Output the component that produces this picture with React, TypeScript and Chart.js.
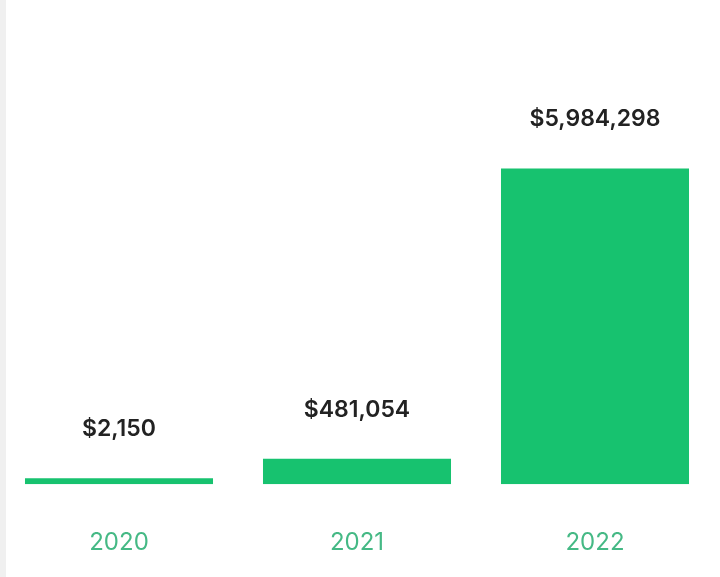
import React, { useEffect, useRef } from "react";
import { Chart, registerables } from "chart.js";

Chart.register(...registerables);

const years = ["2020", "2021", "2022"];
const revenue = [2150, 481054, 5984298];
const valueLabels = ["$2,150", "$481,054", "$5,984,298"];

const BAR_COLOR = "#17c26f";
const TICK_COLOR = "#45b985";
const LABEL_COLOR = "#222222";
const FONT = "Inter, 'Open Sans', sans-serif";

const valueLabelPlugin = {
  id: "valueLabels",
  afterDatasetsDraw(chart: any) {
    const ctx = chart.ctx;
    const meta = chart.getDatasetMeta(0);
    ctx.save();
    ctx.fillStyle = LABEL_COLOR;
    ctx.font = `600 23px ${FONT}`;
    ctx.textAlign = "center";
    ctx.textBaseline = "alphabetic";
    meta.data.forEach((bar: any, i: number) => {
      ctx.fillText(valueLabels[i], bar.x, bar.y - 42);
    });
    ctx.restore();
  },
};

export default function App() {
  const ref = useRef<HTMLCanvasElement | null>(null);

  useEffect(() => {
    if (!ref.current) return;
    const chart = new Chart(ref.current, {
      type: "bar",
      data: {
        labels: years,
        datasets: [
          {
            data: revenue,
            backgroundColor: BAR_COLOR,
            borderWidth: 0,
            barPercentage: 0.79,
            categoryPercentage: 1,
            minBarLength: 6,
          },
        ],
      },
      options: {
        animation: false,
        responsive: false,
        maintainAspectRatio: false,
        layout: { padding: { left: 0, right: 6, top: 62, bottom: 0 } },
        plugins: {
          legend: { display: false },
          tooltip: { enabled: false },
        },
        scales: {
          x: {
            grid: { display: false, drawTicks: false },
            border: { display: false },
            ticks: {
              color: TICK_COLOR,
              font: { family: FONT, size: 24, weight: "400" as any },
              padding: 44,
            },
          },
          y: {
            display: false,
            min: 0,
            max: 8000000,
          },
        },
      },
      plugins: [valueLabelPlugin],
    });
    return () => chart.destroy();
  }, []);

  return (
    <div
      style={{
        position: "absolute",
        left: 0,
        top: 0,
        width: 720,
        height: 577,
        background: "#ffffff",
        overflow: "hidden",
      }}
    >
      <div
        style={{
          position: "absolute",
          left: 0,
          top: 0,
          width: 6,
          height: 577,
          background: "#f0f0f0",
        }}
      />
      <canvas
        ref={ref}
        width={720}
        height={601}
        style={{ position: "absolute", left: 0, top: 0, width: 720, height: 601 }}
      />
    </div>
  );
}
